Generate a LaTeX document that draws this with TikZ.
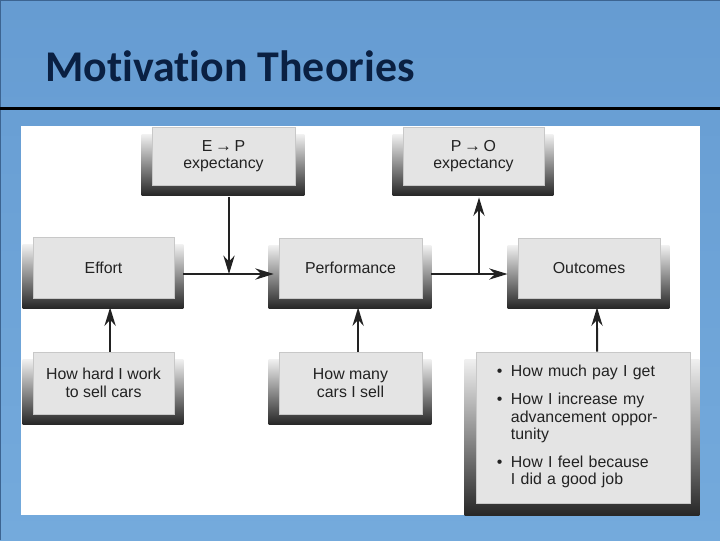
\documentclass[tikz,border=0pt]{standalone}
\usepackage{fontspec}
\usepackage{tikz}
\usetikzlibrary{arrows.meta,calc,backgrounds}
\newfontfamily\boxfont{Liberation Sans}
\newfontfamily\headfont[Ligatures=NoCommon]{Carlito}
\definecolor{slideblue}{RGB}{116,170,220}
\definecolor{slidebluetop}{RGB}{102,156,210}
\definecolor{slideedge}{RGB}{60,100,145}
\definecolor{headnavy}{RGB}{10,32,66}
\definecolor{boxgray}{RGB}{228,228,228}
\definecolor{boxline}{RGB}{200,200,200}
\definecolor{inkgray}{RGB}{34,34,34}
\tikzset{
  stagebox/.style={draw=boxline,line width=0.6pt,fill=boxgray,align=center,inner sep=2pt,
    text=inkgray,font=\boxfont\fontsize{11.3}{12.4}\selectfont},
  shadefill/.style={top color=black!6,bottom color=black!85},
  flow/.style={-{Stealth[length=4.6mm,width=2.8mm]},line width=1.4pt,draw=inkgray}
}
\newcommand{\boxshade}[1]{\shade[shadefill] ($(#1.north west)+(-10,8)$) rectangle ($(#1.south east)+(9,10)$);}

\begin{document}
\begin{tikzpicture}[x=0.025cm,y=-0.025cm]
  \useasboundingbox (0,0) rectangle (720,540);
  % boxes
  \node[stagebox,minimum width=3.575cm,minimum height=1.45cm] (ep) at (223.5,156) {E\,{\large→}\,P\\expectancy};
  \node[stagebox,minimum width=3.525cm,minimum height=1.45cm] (po) at (473.5,156) {P\,{\large→}\,O\\expectancy};
  \node[stagebox,minimum width=3.525cm,minimum height=1.525cm] (effort) at (103.5,267.5) {Effort};
  \node[stagebox,minimum width=3.575cm,minimum height=1.5cm] (perf) at (350.5,268) {Performance};
  \node[stagebox,minimum width=3.55cm,minimum height=1.5cm] (outc) at (589,268) {Outcomes};
  \node[stagebox,minimum width=3.525cm,minimum height=1.55cm] (hard) at (103.5,383) {How hard I work\\to sell cars};
  \node[stagebox,minimum width=3.575cm,minimum height=1.55cm] (many) at (350.5,383) {How many\\cars I sell};
  \node[stagebox,minimum width=5.35cm,minimum height=3.775cm,text width=4.3cm,align=left] (gains) at (583,427.5) {%
    \begin{tabular}{@{}l@{\hspace{6pt}}l@{}}
      • & How much pay I get\\[7.4pt]
      • & How I increase my\\
        & advancement oppor-\\
        & tunity\\[7.4pt]
      • & How I feel because\\
        & I did a good job
    \end{tabular}};
  \coordinate (epjoin) at (229,274);
  \coordinate (pojoin) at (479,274);
  % connectors
  \draw[flow,shorten <=0.225cm,shorten >=0.12cm] (effort.east |- epjoin) -- (perf.west |- epjoin);
  \draw[flow,shorten <=0.3cm] (ep.south -| epjoin) -- (epjoin);
  \draw[flow,shorten <=0.225cm,shorten >=0.25cm] (perf.east |- pojoin) -- (outc.west |- pojoin);
  \draw[flow,shorten >=0.3cm] (pojoin) -- (po.south -| pojoin);
  \draw[flow,shorten >=0.225cm] ([xshift=0.165cm]hard.north) -- ([xshift=0.165cm]effort.south);
  \draw[flow,shorten >=0.225cm] ([xshift=0.19cm]many.north) -- ([xshift=0.19cm]perf.south);
  \draw[flow,shorten >=0.225cm] ([xshift=0.35cm]gains.north) -- (outc.south -| 597,0);
  % slide behind
  \begin{pgfonlayer}{background}
    \shade[top color=slidebluetop,bottom color=slideblue] (0,0) rectangle (720,540);
    \draw[slideedge,line width=0.8pt] (0.5,540) -- (0.5,0.5) -- (720,0.5);
    \draw[black,line width=2.1pt] (0,108.5) -- (720,108.5);
    \fill[white] (21,126) rectangle (700,515);
    \boxshade{ep} \boxshade{po} \boxshade{effort} \boxshade{perf} \boxshade{outc}
    \boxshade{hard} \boxshade{many}
    \shade[shadefill] ($(gains.north west)+(-11,8)$) rectangle ($(gains.south east)+(9,12)$);
  \end{pgfonlayer}
  \node[anchor=base west,inner sep=0pt,text=headnavy,font=\headfont\bfseries\fontsize{31.2}{36}\selectfont] (title) at (45,81) {Motivation Theories};
\end{tikzpicture}
\end{document}
